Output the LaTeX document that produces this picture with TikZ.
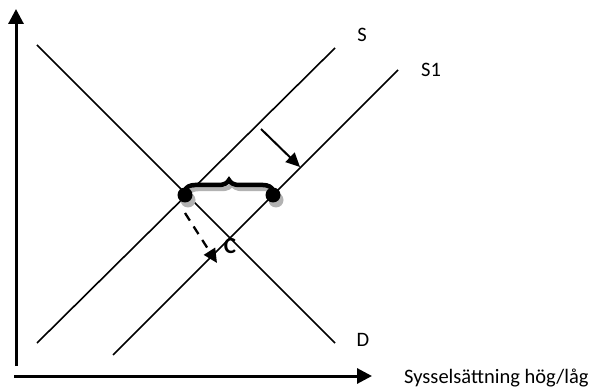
\documentclass[tikz,border=0pt]{standalone}
\usepackage{fontspec}
\setmainfont{Carlito}
\usetikzlibrary{arrows.meta,decorations.pathreplacing}
\begin{document}
\begin{tikzpicture}[x=1pt,y=-1pt,
  axis/.style={line width=3pt,-{Triangle[length=15pt,width=15pt]}},
  curve/.style={line width=1.6pt},
  lbl/.style={inner sep=0pt,font=\fontsize{20.5}{24}\selectfont},
  dot/.style={circle,fill=black,minimum size=15pt,inner sep=0pt},
  dotshadow/.style={circle,fill=black!30,minimum size=15pt,inner sep=0pt},
  shiftarrow/.style={line width=2pt,-{Triangle[length=14pt,width=13pt]}},
  bracestyle/.style={line width=4.5pt,line cap=round,decorate,decoration={brace,amplitude=10pt}}]
\useasboundingbox (0,0) rectangle (600,390);
% axes
\coordinate (yb) at (16,366);
\coordinate (yt) at (16,9);
\coordinate (xl) at (14,376);
\coordinate (xr) at (372,376);
\draw[axis] (yb) -- (yt);
\draw[axis] (xl) -- (xr);
% curves
\coordinate (d1) at (37,45);
\coordinate (d2) at (335,343);
\coordinate (s1) at (37,343);
\coordinate (s2) at (335,48);
\coordinate (t1) at (113,355);
\coordinate (t2) at (398,70);
\draw[curve] (d1) -- (d2);
\draw[curve] (s1) -- (s2);
\draw[curve] (t1) -- (t2);
% labels
\node[lbl] (labS) at (362,35) {S};
\node[lbl] (labS1) at (431,70) {S1};
\node[lbl] (labD) at (363,340) {D};
\node[lbl,anchor=west] (labX) at (404,378) {Sysselsättning hög/låg};
% shift arrow
\coordinate (a1) at (261,129);
\coordinate (a2) at (300,167);
\draw[shiftarrow] (a1) -- (a2);
% brace with shadow
\draw[bracestyle,black!30] (188,194) -- (276,194);
\draw[bracestyle] (185,190) -- (273,190);
% dots with shadow
\node[dotshadow] (sh1) at (188,200) {};
\node[dotshadow] (sh2) at (276,200) {};
\node[dot] (p1) at (185,195) {};
\node[dot] (p2) at (273,195) {};
% dashed arrow
\coordinate (c1) at (185,213);
\coordinate (c2) at (217,263);
\draw[shiftarrow,line width=2.3pt,dash pattern=on 9pt off 7pt] (c1) -- (c2);
\node[lbl,font=\fontsize{23}{26}\selectfont\bfseries] (labC) at (230,246) {C};
\end{tikzpicture}
\end{document}
